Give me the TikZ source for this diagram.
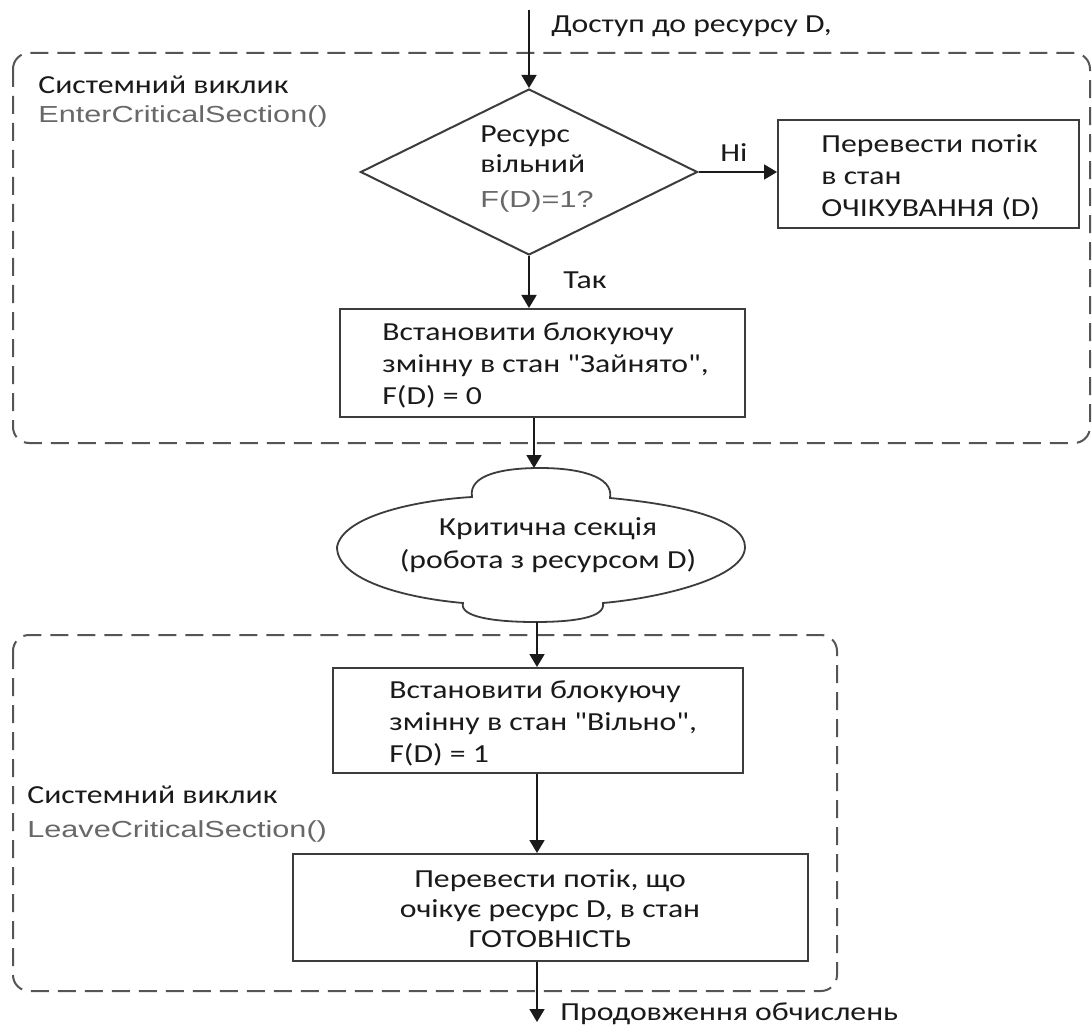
\documentclass[tikz,border=0pt]{standalone}
\usepackage{fontspec}
\setmainfont{Carlito}[FakeStretch=1.22, Ligatures=TeXOff]
\newfontfamily\grayfont[FakeStretch=1.32]{Liberation Sans}
\usetikzlibrary{shapes.geometric,arrows.meta}
\definecolor{ink}{HTML}{1A1A1A}
\definecolor{grp}{HTML}{555555}
\definecolor{gtxt}{HTML}{686868}
\newcommand{\gtx}[1]{{\grayfont\fontsize{11.6}{16}\selectfont\color{gtxt}#1}}
\begin{document}
\begin{tikzpicture}[x=0.5pt,y=-0.5pt,
  txt/.style={font=\fontsize{13}{16}\selectfont, text=ink, inner sep=0pt, align=left},
  boxnode/.style={draw=ink!85, line width=1pt, inner sep=0pt},
  group/.style={draw=grp, line width=1pt, dash pattern=on 9pt off 4.5pt, rounded corners=8pt},
  arr/.style={draw=ink, line width=0.9pt, -{Triangle[width=7.5pt,length=6.5pt]}}
]
\fill[white] (0,0) rectangle (1092,1032);
\useasboundingbox (0,0) rectangle (1092,1032);

% group frames
\draw[group] (13,53) rectangle (1090,443);
\draw[group] (13,635) rectangle (837,991);

% group labels
\node[txt, anchor=north west] (lab1) at (38,70.6) {\strut Системний виклик\\[-1.5pt]\gtx{EnterCriticalSection()}};
\node[txt, anchor=north west] (lab2) at (27,780.6) {\strut Системний виклик\\[1pt]\gtx{LeaveCriticalSection()}};

% decision
\node[diamond, draw=ink!85, line width=1pt, inner sep=0pt, minimum width=168.5pt, minimum height=83pt] (dia) at (529,172) {};
\node[txt, anchor=north west] (diat) at (480,119.6) {\strut Ресурс\\[-1pt]вільний\\[1.5pt]\gtx{F(D)=1?}};

% boxes
\node[boxnode, minimum width=150.5pt, minimum height=54pt] (b1) at (928.5,174) {};
\node[txt, anchor=north west] (b1t) at (821,129.6) {\strut Перевести потік\\в стан\\ОЧІКУВАННЯ (D)};

\node[boxnode, minimum width=202.5pt, minimum height=54pt] (b2) at (542.5,363) {};
\node[txt, anchor=north west] (b2t) at (382,317.6) {\strut Встановити блокуючу\\змінну в стан "Зайнято",\\F(D) = 0};

\node[boxnode, minimum width=205pt, minimum height=52.5pt] (b3) at (538,720.5) {};
\node[txt, anchor=north west] (b3t) at (389,675.6) {\strut Встановити блокуючу\\змінну в стан "Вільно",\\F(D) = 1};

\node[boxnode, minimum width=257.5pt, minimum height=53.5pt] (b4) at (550.5,907.5) {};
\node[txt, align=center, anchor=north] (b4t) at (550,864.6) {\strut Перевести потік, що\\[-1pt]очікує ресурс D, в стан\\[-1pt]ГОТОВНІСТЬ};

% cloud
\draw[draw=ink!85, line width=0.9pt, fill=white]
  (337,547) .. controls (343,515) and (420,500) .. (472,497)
  .. controls (468,474) and (505,468) .. (540,468)
  .. controls (578,468) and (614,476) .. (610,498)
  .. controls (685,505) and (745,520) .. (745,547)
  .. controls (745,578) and (660,598) .. (603,603)
  .. controls (606,618) and (572,622) .. (535,622)
  .. controls (495,622) and (459,617) .. (463,603)
  .. controls (405,598) and (337,580) .. (337,547) -- cycle;
\node[txt, align=center, anchor=north] (cl) at (548,512.6) {\strut Критична секція\\[0.5pt](робота з ресурсом D)};
\coordinate (cltop) at (534,468);
\coordinate (clbot) at (537,622);

% entry / exit
\coordinate (start) at (529,10);
\coordinate (finish) at (537,1022);
\node[txt, anchor=base west] (lin) at (551,33) {Доступ до ресурсу D,};
\node[txt, anchor=base west] (lout) at (560,1020) {Продовження обчислень};

% connectors
\draw[arr] (start) -- (dia.north);
\draw[arr] (dia.east) -- (dia.east -| b1.west);
\node[txt, anchor=base west] (lno) at (720,162) {Ні};
\draw[arr] (dia.south) -- (dia.south |- b2.north);
\node[txt, anchor=base west] (lyes) at (563,288) {Так};
\draw[arr] (b2.south -| cltop) -- (cltop);
\draw[arr] (clbot) -- (b3.north -| clbot);
\draw[arr] (b3.south -| clbot) -- (b4.north -| clbot);
\draw[arr] (b4.south -| finish) -- (finish);
\end{tikzpicture}
\end{document}
